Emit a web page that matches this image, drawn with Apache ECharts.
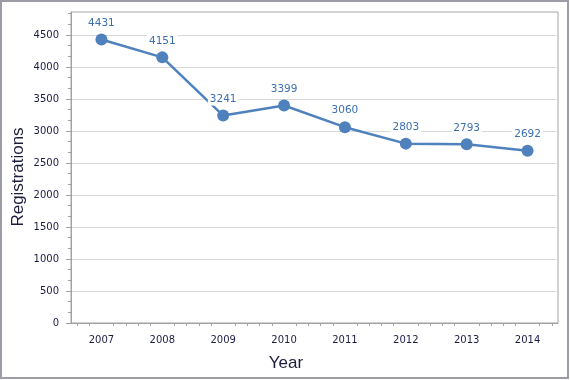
<!DOCTYPE html>
<html>
<head>
<meta charset="utf-8">
<script src="https://cdn.jsdelivr.net/npm/echarts@6/dist/echarts.min.js"></script>
<style>html,body{margin:0;padding:0;background:#fff}#c{width:570px;height:380px}</style>
</head>
<body>
<div id="c"></div>
<script>
const years = ['2007','2008','2009','2010','2011','2012','2013','2014'];
const registrations = [4431, 4151, 3241, 3399, 3060, 2803, 2793, 2692];
const yTicks = [0, 500, 1000, 1500, 2000, 2500, 3000, 3500, 4000, 4500];
const yMax = 4860;

const minorX = [];
for (let k = -1; k <= 7; k++) {
  for (let j = 1; j <= 4; j++) {
    const v = +(k + j * 0.2).toFixed(1);
    if (v > -0.5 && v < 7.5) minorX.push(v);
  }
}

const chart = echarts.init(document.getElementById('c'), null, {renderer: 'canvas'});
const tickFont = {fontFamily: 'DejaVu Sans', fontSize: 10, color: '#1c1c44'};
chart.setOption({
  animation: false,
  grid: {left: 71, right: 12, top: 12, bottom: 57, show: true, borderColor: '#a6a6a6', borderWidth: 1},
  xAxis: [{
    type: 'category', data: years, boundaryGap: true,
    axisLine: {lineStyle: {color: '#a0a0a0'}},
    axisTick: {alignWithLabel: true, length: 5, lineStyle: {color: '#a0a0a0'}},
    axisLabel: Object.assign({margin: 12}, tickFont),
    splitLine: {show: false}
  }, {
    type: 'value', min: -0.5, max: 7.5, position: 'bottom',
    axisLine: {show: false, onZero: false},
    axisTick: {show: true, length: 3, customValues: minorX, lineStyle: {color: '#a0a0a0'}},
    axisLabel: {show: false},
    splitLine: {show: false}
  }],
  yAxis: {
    type: 'value', min: 0, max: yMax, interval: 500,
    axisLine: {show: true, onZero: false, lineStyle: {color: '#a0a0a0'}},
    axisTick: {show: true, length: 5, customValues: yTicks, lineStyle: {color: '#a0a0a0'}},
    minorTick: {show: true, splitNumber: 3, length: 3, lineStyle: {color: '#a0a0a0'}},
    axisLabel: Object.assign({margin: 12, customValues: yTicks, formatter: v => String(v)}, tickFont),
    splitLine: {show: true, lineStyle: {color: '#d9d9d9'}}
  },
  series: [{
    type: 'line', data: registrations, xAxisIndex: 0,
    symbol: 'circle', symbolSize: 12,
    lineStyle: {color: '#4f81bd', width: 2.5},
    itemStyle: {color: '#4f81bd'},
    label: {show: true, position: 'top', distance: 4, fontFamily: 'DejaVu Sans', fontSize: 10.5,
      color: '#3d6fb0', backgroundColor: '#ffffff', padding: [1, 2]}
  }],
  graphic: [
    {type: 'rect', shape: {x: 1, y: 1, width: 567, height: 377}, style: {fill: null, stroke: '#9c9ca6', lineWidth: 2}, silent: true},
    {type: 'text', x: 18, y: 177, rotation: Math.PI / 2,
      style: {text: 'Registrations', font: '17px "Liberation Sans"', fill: '#1c1c3c', textAlign: 'center', textVerticalAlign: 'middle'}},
    {type: 'text', x: 286, y: 363,
      style: {text: 'Year', font: '17px "Liberation Sans"', fill: '#1c1c3c', textAlign: 'center', textVerticalAlign: 'middle'}}
  ]
});
</script>
</body>
</html>
